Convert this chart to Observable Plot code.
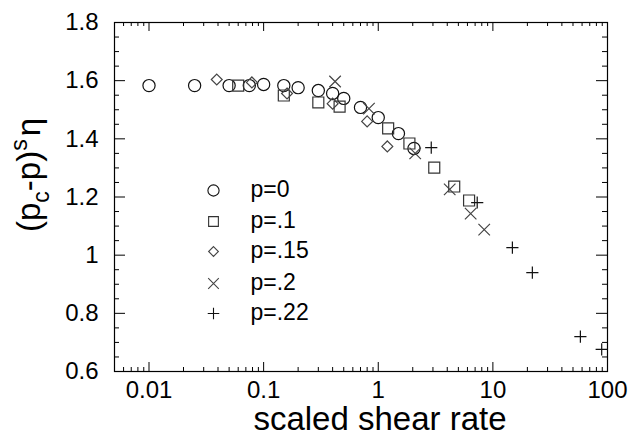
<!DOCTYPE html>
<html><head><meta charset="utf-8">
<script src="https://cdn.jsdelivr.net/npm/d3@7"></script>
<script src="https://cdn.jsdelivr.net/npm/@observablehq/plot@0.6"></script>
<style>body{margin:0;background:#fff} svg{display:block}</style>
</head><body><div id="chart"></div>
<script>
// series: p = 0
const p0X = [0.01, 0.025, 0.05, 0.075, 0.1, 0.15, 0.2, 0.3, 0.4, 0.5, 0.7, 1.0, 1.5, 2.05];
const p0Y = [1.583, 1.583, 1.583, 1.583, 1.587, 1.583, 1.576, 1.566, 1.556, 1.539, 1.508, 1.473, 1.418, 1.367];
// p = .1
const p1X = [0.06, 0.15, 0.3, 0.46, 1.22, 1.87, 3.08, 4.6, 6.2];
const p1Y = [1.583, 1.549, 1.525, 1.511, 1.436, 1.384, 1.301, 1.236, 1.188];
// p = .15
const p15X = [0.039, 0.079, 0.16, 0.4, 0.8, 1.2];
const p15Y = [1.604, 1.594, 1.556, 1.521, 1.460, 1.374];
// p = .2
const p2X = [0.42, 0.83, 2.1, 4.2, 6.4, 8.4];
const p2Y = [1.597, 1.504, 1.350, 1.226, 1.143, 1.088];
// p = .22
const p22X = [2.9, 7.3, 14.8, 22.1, 58, 89];
const p22Y = [1.370, 1.181, 1.026, 0.940, 0.720, 0.676];

const legendLabels = ["p=0", "p=.1", "p=.15", "p=.2", "p=.22"];
const xTicks = [0.01, 0.1, 1, 10, 100];
const xTickLabels = ["0.01", "0.1", "1", "10", "100"];
const yTicks = [0.6, 0.8, 1, 1.2, 1.4, 1.6, 1.8];
const yTickLabels = ["0.6", "0.8", "1", "1.2", "1.4", "1.6", "1.8"];
const yMinor = [0.65, 0.7, 0.75, 0.85, 0.9, 0.95, 1.05, 1.1, 1.15, 1.25, 1.3, 1.35, 1.45, 1.5, 1.55, 1.65, 1.7, 1.75];
const xMinor = [];
for (const dec of [0.001, 0.01, 0.1, 1, 10]) for (const m of [2,3,4,5,6,7,8,9]) { const v = +(m*dec).toPrecision(3); if (v > 0.005 && v < 100) xMinor.push(v); }

const W = 639, H = 438, ML = 114, MR = 32, MT = 22, MB = 67;
const PW = W - ML - MR, PH = H - MT - MB;
const FONT = "'Liberation Sans', Arial, Helvetica, sans-serif";

const rows = (xs, ys) => xs.map((x, i) => ({x, y: ys[i]}));
const series = [
  {data: rows(p0X, p0Y), symbol: "circle", r: 6.1, lr: 5.6, stroke: "#111"},
  {data: rows(p1X, p1Y), symbol: "square", r: 6.2, lr: 5.5, stroke: "#333"},
  {data: rows(p15X, p15Y), symbol: "diamond2", r: 4.9, lr: 4.4, stroke: "#444"},
  {data: rows(p2X, p2Y), symbol: "times", r: 5.3, lr: 4.9, stroke: "#444"},
  {data: rows(p22X, p22Y), symbol: "plus", r: 4.0, lr: 3.8, stroke: "#111"}
];
const legendDy = [168, 199, 229, 261, 291];

const marks = [
  // inward ticks on all four sides
  Plot.tickX(xTicks, {x: d => d, insetTop: PH - 9, stroke: "black"}),
  Plot.tickX(xTicks, {x: d => d, insetBottom: PH - 9, stroke: "black"}),
  Plot.tickX(xMinor, {x: d => d, insetTop: PH - 4, stroke: "black"}),
  Plot.tickX(xMinor, {x: d => d, insetBottom: PH - 4, stroke: "black"}),
  Plot.tickY(yTicks, {y: d => d, insetRight: PW - 11, stroke: "black"}),
  Plot.tickY(yTicks, {y: d => d, insetLeft: PW - 11, stroke: "black"}),
  Plot.tickY(yMinor, {y: d => d, insetRight: PW - 5, stroke: "black"}),
  Plot.tickY(yMinor, {y: d => d, insetLeft: PW - 5, stroke: "black"}),
  Plot.frame({stroke: "black", strokeWidth: 1.2})
];
series.forEach((s, i) => {
  marks.push(Plot.dot(s.data, {x: "x", y: "y", symbol: () => s.symbol, r: s.r, stroke: s.stroke, strokeWidth: 1.2, fill: "none"}));
  marks.push(Plot.dot([legendLabels[i]], {frameAnchor: "top-left", dx: 99, dy: legendDy[i], symbol: () => s.symbol, r: s.lr, stroke: s.stroke, strokeWidth: 1.1, fill: "none"}));
  marks.push(Plot.text([legendLabels[i]], {text: d => d, frameAnchor: "top-left", dx: 136, dy: legendDy[i] - 1, textAnchor: "start", lineAnchor: "middle", fontSize: 23, fill: "black"}));
});

const chart = Plot.plot({
  width: W, height: H,
  marginLeft: ML, marginRight: MR, marginTop: MT, marginBottom: MB,
  style: {fontFamily: FONT, fontSize: "24px", color: "black", background: "white"},
  x: {type: "log", domain: [0.005, 100], ticks: xTicks, tickFormat: (d) => xTickLabels[xTicks.indexOf(d)], tickSize: 0, tickPadding: 9, label: null},
  y: {domain: [0.6, 1.8], ticks: yTicks, tickFormat: (d) => yTickLabels[yTicks.findIndex(v => Math.abs(v - d) < 1e-9)], tickSize: 0, tickPadding: 16, label: null},
  symbol: {type: "identity"},
  marks
});

const svg = d3.select(chart);
// x axis label
svg.append("text").attr("x", 380).attr("y", 430).attr("text-anchor", "middle")
  .attr("font-family", FONT).attr("font-size", 33).attr("fill", "black").text("scaled shear rate");
// y axis label with subscript / superscript
const yl = svg.append("text").attr("transform", "translate(40,232) rotate(-90)")
  .attr("font-family", FONT).attr("font-size", 33).attr("fill", "black").attr("text-anchor", "start");
yl.append("tspan").text("(p");
yl.append("tspan").attr("font-size", 23).attr("dy", 9).text("c");
yl.append("tspan").attr("dy", -9).text("-p)");
yl.append("tspan").attr("font-size", 23).attr("dy", -13).text("s");
yl.append("tspan").attr("dy", 13).attr("dx", 3).text("η");

document.getElementById("chart").appendChild(chart);
</script>
</body></html>
